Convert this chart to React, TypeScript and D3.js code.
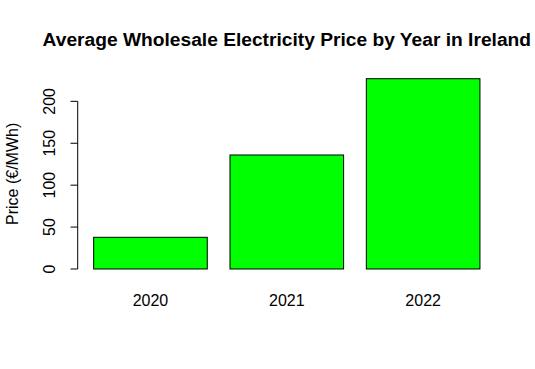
import React from "react";
import * as d3 from "d3";

const categories = ["2020", "2021", "2022"];
const prices = [37.8, 136, 227];
const yTicks = [0, 50, 100, 150, 200];

const W = 535;
const H = 369;

export default function App() {
  // R barplot geometry: width 1, space 0.2
  const barWidth = 1;
  const space = 0.2;
  const lefts = categories.map((_, i) => space + i * (barWidth + space));
  const xmin = space;
  const xmax = lefts[lefts.length - 1] + barWidth;
  const pad = (xmax - xmin) * 0.04;
  const x = d3.scaleLinear().domain([xmin - pad, xmax + pad]).range([78.2, 495.4]);
  const ymax = d3.max(prices) as number;
  const y = d3
    .scaleLinear()
    .domain([-0.04 * ymax, ymax * 1.04])
    .range([276.6, 71.1]);

  const font = "'Liberation Sans', Arial, Helvetica, sans-serif";
  const axisX = x.range()[0] - 0.5;

  return (
    <svg
      width={W}
      height={H}
      style={{ position: "absolute", left: 0, top: 0, background: "#fff" }}
      fontFamily={font}
    >
      <rect x={0} y={0} width={W} height={H} fill="#fff" />
      <text x={(x.range()[0] + x.range()[1]) / 2} y={46} textAnchor="middle" fontSize={19.2} fontWeight="bold" fill="#000">
        Average Wholesale Electricity Price by Year in Ireland
      </text>
      {prices.map((v, i) => (
        <rect
          key={categories[i]}
          x={x(lefts[i])}
          y={y(v)}
          width={x(lefts[i] + barWidth) - x(lefts[i])}
          height={y(0) - y(v)}
          fill="#00ff00"
          stroke="#000"
          strokeWidth={1}
        />
      ))}
      {categories.map((c, i) => (
        <text key={c} x={x(lefts[i] + barWidth / 2)} y={306} textAnchor="middle" fontSize={16} fill="#000">
          {c}
        </text>
      ))}
      <line x1={axisX} x2={axisX} y1={y(yTicks[0])} y2={y(yTicks[yTicks.length - 1])} stroke="#000" strokeWidth={1} />
      {yTicks.map((t) => (
        <g key={t}>
          <line x1={axisX - 7.2} x2={axisX} y1={y(t)} y2={y(t)} stroke="#000" strokeWidth={1} />
          <text
            transform={`translate(${55},${y(t)}) rotate(-90)`}
            textAnchor="middle"
            fontSize={16}
            fill="#000"
          >
            {t}
          </text>
        </g>
      ))}
      <text
        transform={`translate(${18},${(y.range()[0] + y.range()[1]) / 2}) rotate(-90)`}
        textAnchor="middle"
        fontSize={16}
        fill="#000"
      >
        Price (€/MWh)
      </text>
    </svg>
  );
}
